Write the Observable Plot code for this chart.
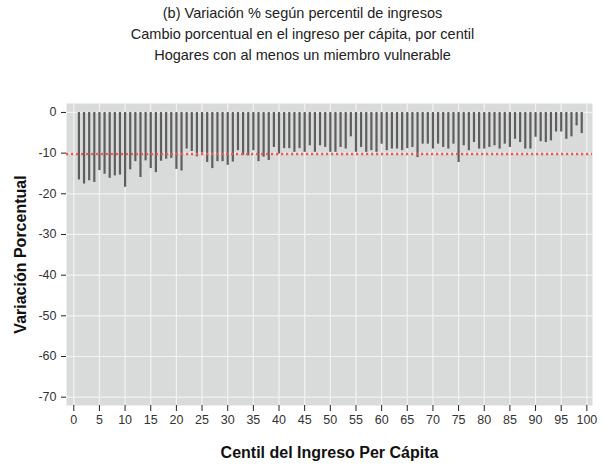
<!DOCTYPE html>
<html>
<head>
<meta charset="utf-8">
<script src="https://cdn.jsdelivr.net/npm/d3@7"></script>
<script src="https://cdn.jsdelivr.net/npm/@observablehq/plot@0.6"></script>
<style>
  html, body { margin: 0; padding: 0; background: #ffffff; }
  body { width: 605px; height: 468px; overflow: hidden; font-family: "Liberation Sans", Arial, sans-serif; }
  #title { height: 70px; box-sizing: border-box; padding-top: 3px; text-align: center; font-size: 14.5px; line-height: 21px; color: #222; }
  #chart svg { display: block; }
</style>
</head>
<body>
<div id="title">
  <div>(b) Variación % según percentil de ingresos</div>
  <div>Cambio porcentual en el ingreso per cápita, por centil</div>
  <div>Hogares con al menos un miembro vulnerable</div>
</div>
<div id="chart"></div>
<script>
const centiles = [1,2,3,4,5,6,7,8,9,10,11,12,13,14,15,16,17,18,19,20,21,22,23,24,25,26,27,28,29,30,31,32,33,34,35,36,37,38,39,40,41,42,43,44,45,46,47,48,49,50,51,52,53,54,55,56,57,58,59,60,61,62,63,64,65,66,67,68,69,70,71,72,73,74,75,76,77,78,79,80,81,82,83,84,85,86,87,88,89,90,91,92,93,94,95,96,97,98,99];
const variation = [-16.6,-17.6,-16.8,-17.2,-14.3,-15.2,-16.2,-15.6,-15.4,-18.4,
  -14.1,-12.1,-16.0,-11.9,-13.8,-14.8,-12.0,-11.5,-11.3,-14.0,
  -14.4,-9.0,-9.6,-10.9,-10.0,-12.3,-13.8,-12.1,-12.1,-13.0,
  -12.2,-9.4,-10.6,-10.7,-9.4,-12.1,-11.0,-11.8,-8.6,-10.2,
  -8.9,-8.9,-9.8,-8.9,-9.8,-8.2,-9.8,-8.2,-8.6,-9.8,
  -9.8,-8.6,-9.0,-6.0,-9.8,-8.6,-9.8,-9.4,-9.8,-7.8,
  -9.4,-9.0,-9.0,-9.4,-8.9,-8.6,-11.1,-7.8,-7.8,-9.0,
  -7.8,-8.6,-9.0,-7.8,-12.3,-8.2,-9.4,-7.4,-9.0,-9.0,
  -8.6,-8.2,-9.0,-7.8,-8.6,-6.6,-7.4,-9.0,-9.0,-6.1,
  -7.2,-7.4,-7.0,-4.8,-4.8,-6.6,-6.0,-3.3,-5.2];
const averageChange = -10.2;
const xTicks = [0,5,10,15,20,25,30,35,40,45,50,55,60,65,70,75,80,85,90,95,100];
const yTicks = [0,-10,-20,-30,-40,-50,-60,-70];
const xLabel = "Centil del Ingreso Per Cápita";
const yLabel = "Variación Porcentual";

const data = centiles.map((c, i) => ({centil: c, value: variation[i]}));

const chart = Plot.plot({
  width: 605,
  height: 398,
  marginTop: 33,
  marginBottom: 63,
  marginLeft: 66,
  marginRight: 13,
  style: {fontFamily: "'Liberation Sans', Arial, sans-serif", fontSize: "12.5px", color: "#333", background: "#fff"},
  x: {domain: [-1.42, 101.1], label: null},
  y: {domain: [-72.05, 2.2], label: null},
  marks: [
    Plot.frame({fill: "#d9dbda", stroke: "none"}),
    Plot.ruleX(xTicks, {stroke: "#f2f2f2", strokeWidth: 1.2}),
    Plot.ruleY(yTicks, {stroke: "#f2f2f2", strokeWidth: 1.2}),
    Plot.ruleX(data, {x: "centil", y1: 0, y2: "value", stroke: "#5e5e5e", strokeWidth: 2.2}),
    Plot.ruleY([averageChange], {stroke: "#ec5a5c", strokeWidth: 2.5, strokeDasharray: "2.2,2.8"}),
    Plot.axisX({ticks: xTicks, tickSize: 6, tickPadding: 4, tickFormat: d => String(d), label: null, stroke: "#222"}),
    Plot.axisY({ticks: yTicks, tickSize: 5, tickPadding: 5, tickFormat: d => String(d), label: null, stroke: "#222"}),
    Plot.text([xLabel], {text: d => d, frameAnchor: "bottom", textAnchor: "middle", lineAnchor: "middle", dy: 47, fontWeight: "bold", fontSize: 16, fill: "#111"}),
    Plot.text([yLabel], {text: d => d, frameAnchor: "left", textAnchor: "middle", lineAnchor: "middle", dx: -46, rotate: -90, fontWeight: "bold", fontSize: 16, fill: "#111"})
  ]
});
document.getElementById("chart").appendChild(chart);
</script>
</body>
</html>
